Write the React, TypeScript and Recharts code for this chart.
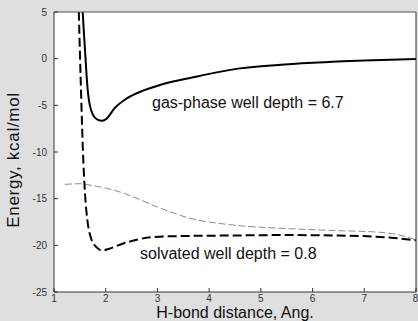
import { LineChart, Line, XAxis, YAxis, ReferenceDot, CartesianGrid } from "recharts";

const xTicks = [1, 2, 3, 4, 5, 6, 7, 8];
const yTicks = [-25, -20, -15, -10, -5, 0, 5];

// gas-phase curve (solid)
const gasX = [1.5, 1.53, 1.555, 1.58, 1.6, 1.63, 1.66, 1.69, 1.73, 1.78, 1.85, 1.92, 2.0, 2.18, 2.41, 2.73, 3.05, 3.69, 4.6, 5.33, 6.0, 7.0, 8.0];
const gasY = [14, 8, 5, 2.6, 0.9, -1.8, -3.8, -4.9, -5.7, -6.25, -6.55, -6.65, -6.5, -5.25, -4.25, -3.4, -2.82, -2.0, -1.04, -0.68, -0.45, -0.2, -0.04];

// solvated curve (heavy dashed)
const solvX = [1.45, 1.48, 1.52, 1.56, 1.6, 1.65, 1.72, 1.82, 1.93, 2.05, 2.34, 2.95, 3.5, 4.4, 5.5, 6.5, 7.3, 8.0];
const solvY = [12, 5, -3, -10, -14.5, -17.5, -19.3, -20.2, -20.55, -20.4, -19.8, -19.1, -19.0, -18.95, -18.9, -18.95, -19.1, -19.45];

// thin gray dashed curve
const thinX = [1.21, 1.5, 1.75, 2.02, 2.34, 2.98, 3.63, 4.27, 4.6, 5.5, 6.34, 7.3, 7.6, 8.0];
const thinY = [-13.47, -13.4, -13.6, -13.9, -14.4, -15.85, -17.1, -17.7, -17.9, -18.2, -18.4, -18.6, -18.8, -19.4];

const gasLabel = { x: 2.895, y: -4.71, text: "gas-phase well depth = 6.7" };
const solvLabel = { x: 2.663, y: -20.85, text: "solvated well depth = 0.8" };

const toPoints = (xs: number[], ys: number[]) => xs.map((x, i) => ({ x, y: ys[i] }));

const font = "'Liberation Sans', Arial, Helvetica, sans-serif";
const tickStyle = { fontSize: 10, fill: "#333", fontFamily: font };
const annot = { fontSize: 16, fill: "#111", fontFamily: font };

export default function App() {
  return (
    <div style={{ position: "absolute", left: 0, top: 0, width: 418, height: 321, background: "#dfdfdf" }}>
      <LineChart width={418} height={321} margin={{ top: 11, right: 1, bottom: 0, left: 0 }}>
        <CartesianGrid fill="#fff" horizontal={false} vertical={false} />
        <XAxis
          dataKey="x"
          type="number"
          domain={[1, 8]}
          ticks={xTicks}
          allowDataOverflow
          height={29}
          tickSize={-4}
          tickMargin={7}
          stroke="#333"
          tick={tickStyle}
          label={{ value: "H-bond distance, Ang.", position: "insideBottom", offset: 3, style: { ...annot } }}
        />
        <XAxis xAxisId="top" orientation="top" type="number" domain={[1, 8]} ticks={xTicks} height={1} tickSize={-4} tick={false} stroke="#555" />
        <YAxis
          type="number"
          domain={[-25, 5]}
          ticks={yTicks}
          allowDataOverflow
          width={54}
          tickSize={-4}
          tickMargin={11}
          stroke="#333"
          tick={tickStyle}
          label={(p: any) => {
            const vb = p.viewBox || { x: 0, y: 12, height: 280 };
            return (
              <text
                transform={`translate(${vb.x + 19}, ${vb.y + vb.height / 2 + 8}) rotate(-90)`}
                textAnchor="middle"
                style={{ fontSize: 17, letterSpacing: 0.7, fill: "#111", fontFamily: font }}
              >
                Energy, kcal/mol
              </text>
            );
          }}
        />
        <YAxis yAxisId="right" orientation="right" type="number" domain={[-25, 5]} ticks={yTicks} width={1} tickSize={-4} tick={false} stroke="#333" />
        <Line data={toPoints(thinX, thinY)} dataKey="y" type="monotone" stroke="#8a8a8a" strokeWidth={1} strokeDasharray="7 3" dot={false} isAnimationActive={false} />
        <Line data={toPoints(solvX, solvY)} dataKey="y" type="monotone" stroke="#000" strokeWidth={2} strokeDasharray="9 4" dot={false} isAnimationActive={false} />
        <Line data={toPoints(gasX, gasY)} dataKey="y" type="monotone" stroke="#000" strokeWidth={2} dot={false} isAnimationActive={false} />
        <ReferenceDot x={gasLabel.x} y={gasLabel.y} r={0} stroke="none" fill="none" label={{ value: gasLabel.text, position: "right", offset: 0, ...annot }} />
        <ReferenceDot x={solvLabel.x} y={solvLabel.y} r={0} stroke="none" fill="none" label={{ value: solvLabel.text, position: "right", offset: 0, ...annot }} />
      </LineChart>
    </div>
  );
}
